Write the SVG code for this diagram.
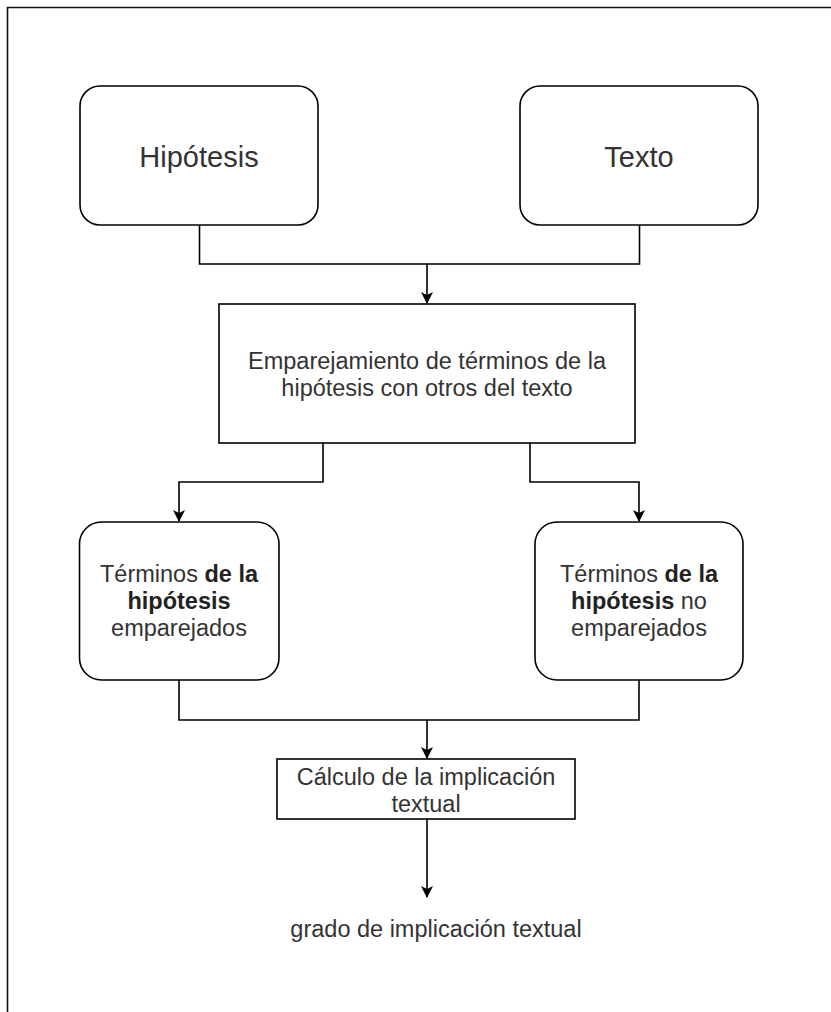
<svg xmlns="http://www.w3.org/2000/svg" width="831" height="1012" viewBox="0 0 831 1012">
<style>
.box{fill:#fff;stroke:#000;stroke-width:1.6}
.t{font-family:"Liberation Sans",Arial,sans-serif;font-size:23.5px;fill:#333;text-anchor:middle}
.big{font-size:29px}
.b{font-weight:bold;fill:#222}
.c{fill:none;stroke:#000;stroke-width:1.6}
</style>
<defs>
<marker id="arr" viewBox="0 0 12 12" refX="11" refY="6" markerWidth="12" markerHeight="12" markerUnits="userSpaceOnUse" orient="auto">
<path d="M0,0 L12,6 L0,12 L3,6 Z" fill="#000"/>
</marker>
</defs>
<rect width="831" height="1012" fill="#fff"/>
<path d="M7.5,1012 V7.5 H831" fill="none" stroke="#111" stroke-width="1.6"/>
<g id="connectors">
<path class="c" d="M199.5,225 V264 H639.5 V225"/>
<path class="c" d="M427,264 V303" marker-end="url(#arr)"/>
<path class="c" d="M323,443 V482 H179 V521" marker-end="url(#arr)"/>
<path class="c" d="M530,443 V482 H639 V521" marker-end="url(#arr)"/>
<path class="c" d="M179,680 V720 H639 V680"/>
<path class="c" d="M427,720 V758" marker-end="url(#arr)"/>
<path class="c" d="M427,819 V897" marker-end="url(#arr)"/>
</g>
<g id="hipotesis">
<rect class="box" x="80" y="86" width="238" height="139" rx="20"/>
<text class="t big" x="199" y="167">Hipótesis</text>
</g>
<g id="texto">
<rect class="box" x="520" y="86" width="238" height="139" rx="20"/>
<text class="t big" x="639" y="167">Texto</text>
</g>
<g id="emparejamiento">
<rect class="box" x="219" y="304" width="416" height="139"/>
<text class="t" x="427" y="369">Emparejamiento de términos de la</text>
<text class="t" x="427" y="396">hipótesis con otros del texto</text>
</g>
<g id="emparejados">
<rect class="box" x="79.5" y="522" width="199.5" height="158" rx="22"/>
<text class="t" x="179" y="582">Términos <tspan class="b">de la</tspan></text>
<text class="t b" x="179" y="609">hipótesis</text>
<text class="t" x="179" y="636">emparejados</text>
</g>
<g id="no-emparejados">
<rect class="box" x="535" y="522" width="208" height="158" rx="22"/>
<text class="t" x="639" y="582">Términos <tspan class="b">de la</tspan></text>
<text class="t" x="639" y="609"><tspan class="b">hipótesis</tspan> no</text>
<text class="t" x="639" y="636">emparejados</text>
</g>
<g id="calculo">
<rect class="box" x="277" y="759" width="298" height="60"/>
<text class="t" x="426" y="785">Cálculo de la implicación</text>
<text class="t" x="426" y="812">textual</text>
</g>
<g id="grado">
<text class="t" x="436" y="937">grado de implicación textual</text>
</g>
</svg>
